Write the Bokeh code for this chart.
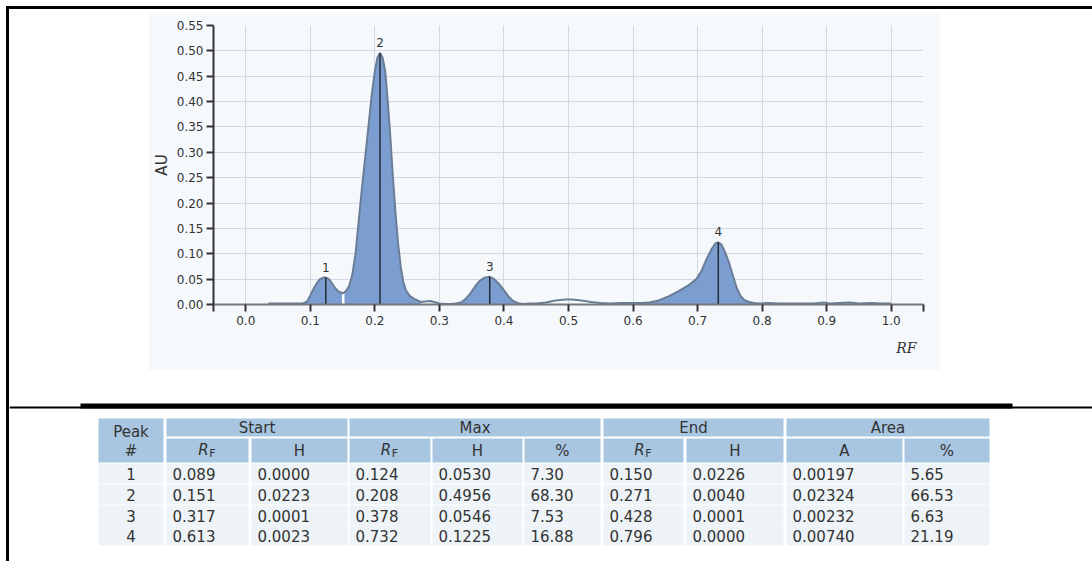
from bokeh.plotting import figure
from bokeh.models import Range1d, FixedTicker, PrintfTickFormatter, Title, Spacer
from bokeh.layouts import column, row
from bokeh.embed import file_html
from bokeh.resources import INLINE
from bokeh.core.properties import value

# ---------------- data ----------------
curve_rf = [0.035, 0.050, 0.070, 0.085, 0.089, 0.095, 0.100, 0.105, 0.110, 0.115, 0.120, 0.124,
            0.128, 0.133, 0.138, 0.144, 0.150, 0.151, 0.155, 0.160, 0.165, 0.170, 0.175, 0.180,
            0.185, 0.190, 0.195, 0.200, 0.204, 0.208, 0.212, 0.216, 0.220, 0.224, 0.228, 0.232,
            0.236, 0.240, 0.244, 0.248, 0.254, 0.261, 0.271, 0.278, 0.285, 0.292, 0.300, 0.310,
            0.317, 0.325, 0.333, 0.340, 0.348, 0.355, 0.362, 0.370, 0.378, 0.385, 0.392, 0.400,
            0.407, 0.414, 0.421, 0.428, 0.440, 0.450, 0.465, 0.480, 0.495, 0.505, 0.520, 0.535,
            0.550, 0.565, 0.580, 0.600, 0.613, 0.625, 0.640, 0.655, 0.670, 0.685, 0.698, 0.706,
            0.714, 0.722, 0.728, 0.732, 0.737, 0.742, 0.748, 0.754, 0.760, 0.766, 0.772, 0.780,
            0.788, 0.796, 0.810, 0.825, 0.840, 0.860, 0.880, 0.895, 0.905, 0.920, 0.935, 0.950,
            0.970, 0.985, 1.000]
curve_au = [0.002, 0.002, 0.002, 0.002, 0.002, 0.006, 0.018, 0.031, 0.042, 0.050, 0.053, 0.053,
            0.051, 0.043, 0.033, 0.025, 0.0226, 0.0223, 0.026, 0.036, 0.058, 0.100, 0.165, 0.230,
            0.290, 0.350, 0.412, 0.460, 0.487, 0.4956, 0.487, 0.460, 0.400, 0.330, 0.250, 0.180,
            0.120, 0.075, 0.045, 0.028, 0.017, 0.011, 0.005, 0.006, 0.007, 0.005, 0.002, 0.001,
            0.001, 0.002, 0.004, 0.010, 0.022, 0.035, 0.046, 0.053, 0.0546, 0.050, 0.041, 0.028,
            0.016, 0.007, 0.003, 0.001, 0.002, 0.002, 0.004, 0.008, 0.010, 0.010, 0.008, 0.005,
            0.003, 0.002, 0.003, 0.003, 0.003, 0.004, 0.008, 0.016, 0.026, 0.037, 0.050, 0.066,
            0.090, 0.110, 0.121, 0.1225, 0.118, 0.105, 0.085, 0.060, 0.035, 0.018, 0.009, 0.005,
            0.003, 0.002, 0.003, 0.002, 0.002, 0.002, 0.002, 0.004, 0.002, 0.003, 0.004, 0.002,
            0.003, 0.002, 0.002]

peak_no = [1, 2, 3, 4]
start_rf = [0.089, 0.151, 0.317, 0.613]
start_h = [0.0000, 0.0223, 0.0001, 0.0023]
max_rf = [0.124, 0.208, 0.378, 0.732]
max_h = [0.0530, 0.4956, 0.0546, 0.1225]
max_pct = [7.30, 68.30, 7.53, 16.88]
end_rf = [0.150, 0.271, 0.428, 0.796]
end_h = [0.0226, 0.0040, 0.0001, 0.0000]
area_a = [0.00197, 0.02324, 0.00232, 0.00740]
area_pct = [5.65, 66.53, 6.63, 21.19]

x_ticks = [0.0, 0.1, 0.2, 0.3, 0.4, 0.5, 0.6, 0.7, 0.8, 0.9, 1.0]
y_ticks = [0.00, 0.05, 0.10, 0.15, 0.20, 0.25, 0.30, 0.35, 0.40, 0.45, 0.50, 0.55]

group_labels = ["Start", "Max", "End", "Area"]
sub_labels = ["RF", "H", "RF", "H", "%", "RF", "H", "A", "%"]

# ---------------- styles ----------------
BG = "#f6f9fc"
FILL = "#7c9dd0"
LINE = "#6a7d96"
GRID = "#d4d7e6"
TXT = "#333333"
HEAD = "#a8c6e0"
ROW = "#edf3f6"
FONT = "DejaVu Sans"

# ---------------- chart ----------------
p = figure(width=792, height=358, x_range=Range1d(-0.05, 1.05), y_range=Range1d(0, 0.55),
           output_backend="svg", toolbar_location=None,
           min_border_left=65, min_border_right=17, min_border_top=13, min_border_bottom=66,
           background_fill_color=BG, border_fill_color=BG, outline_line_color=None)

p.xaxis.ticker = FixedTicker(ticks=[-0.05] + x_ticks + [1.05])
p.xaxis.formatter = PrintfTickFormatter(format="%.1f")
p.xaxis.major_label_overrides = {-0.05: "", 1.05: ""}
p.xaxis.axis_line_color = "#777777"
p.xaxis.axis_line_width = 2
p.xaxis.major_tick_line_color = "#333333"
p.xaxis.major_tick_line_width = 2
p.xaxis.major_tick_out = 7
p.xaxis.major_tick_in = 0
p.xaxis.minor_tick_out = 0
p.xaxis.major_label_standoff = 4

p.yaxis.ticker = FixedTicker(ticks=y_ticks)
p.yaxis.formatter = PrintfTickFormatter(format="%.2f")
p.yaxis.axis_line_color = "#333333"
p.yaxis.axis_line_width = 2
p.yaxis.major_tick_line_color = "#333333"
p.yaxis.major_tick_line_width = 2
p.yaxis.major_tick_out = 7
p.yaxis.major_tick_in = 0
p.yaxis.minor_tick_out = 0
p.yaxis.major_label_standoff = 3
p.yaxis.axis_label = "AU"
p.yaxis.axis_label_text_font = FONT
p.yaxis.axis_label_text_font_size = "15px"
p.yaxis.axis_label_text_font_style = "normal"
p.yaxis.axis_label_text_color = TXT
p.yaxis.axis_label_standoff = 3

for ax in (p.xaxis, p.yaxis):
    ax.major_label_text_font = FONT
    ax.major_label_text_font_size = "12px"
    ax.major_label_text_color = TXT

p.xgrid.ticker = FixedTicker(ticks=x_ticks)
p.ygrid.ticker = FixedTicker(ticks=y_ticks[1:])
p.grid.grid_line_color = GRID
p.grid.grid_line_width = 1

# filled peak areas
for s, e in zip(start_rf, end_rf):
    xs = [x for x in curve_rf if s <= x <= e]
    ys = [y for x, y in zip(curve_rf, curve_au) if s <= x <= e]
    p.varea(x=xs, y1=[0] * len(xs), y2=ys, fill_color=FILL, fill_alpha=1)

p.segment(x0=start_rf, y0=[0] * 4, x1=start_rf, y1=start_h, line_color="white", line_width=2.5)
p.line(curve_rf, curve_au, line_color=LINE, line_width=2)
p.segment(x0=max_rf, y0=[0] * 4, x1=max_rf, y1=max_h, line_color="#111111", line_width=1.2)
p.text(x=max_rf, y=max_h, text=[str(n) for n in peak_no], y_offset=-6,
       text_align="center", text_baseline="bottom", text_font=value(FONT),
       text_font_size="12px", text_color=TXT)

rf_title = Title(text="RF", align="right", text_font="DejaVu Serif", text_font_style="italic",
                 text_font_size="14px", text_color=TXT, offset=7, standoff=21)
p.add_layout(rf_title, "below")

# ---------------- separator + table (pixel coordinates) ----------------
BW, BH = 1083, 191
TX0, TY0 = 89, 48          # table origin inside the lower panel
col_left = [0, 68, 153, 251, 334, 426, 505, 588, 688, 806]
col_w = [65, 82, 96, 81, 90, 76, 80, 97, 116, 85]
col_right = [l + w for l, w in zip(col_left, col_w)]
groups = [(1, 2), (3, 5), (6, 7), (8, 9)]
row_top = [45, 66, 87, 107]
ROW_H = 20

t = figure(width=BW, height=BH, x_range=Range1d(0, BW), y_range=Range1d(BH, 0),
           output_backend="svg", toolbar_location=None, x_axis_type=None, y_axis_type=None,
           min_border=0, outline_line_color=None,
           background_fill_color="white", border_fill_color="white")

# separator rules
t.quad(left=[71, 0], right=[1003, BW], top=[33, 36], bottom=[38, 38],
       fill_color="black", line_color=None)

def X(v):
    return [TX0 + a for a in v] if isinstance(v, list) else TX0 + v

def Y(v):
    return [TY0 + a for a in v] if isinstance(v, list) else TY0 + v

# header cells
hl = [col_left[0]] + [col_left[a] for a, b in groups]
hr = [col_right[0]] + [col_right[b] for a, b in groups]
t.quad(left=X(hl), right=X(hr), top=Y([0] * 5), bottom=Y([44] + [18] * 4),
       fill_color=HEAD, line_color=None)
t.quad(left=X(col_left[1:]), right=X(col_right[1:]), top=Y([20] * 9), bottom=Y([44] * 9),
       fill_color=HEAD, line_color=None)

# data cells
dl, dr, dt, db = [], [], [], []
for rt in row_top:
    for l, r in zip(col_left, col_right):
        dl.append(l); dr.append(r); dt.append(rt); db.append(rt + ROW_H)
t.quad(left=X(dl), right=X(dr), top=Y(dt), bottom=Y(db), fill_color=ROW, line_color=None)

tstyle = dict(text_font=value(FONT), text_font_size="15px", text_color=TXT, text_baseline="middle")
c0 = (col_left[0] + col_right[0]) / 2
t.text(x=X([c0, c0]), y=Y([13, 32]), text=["Peak", "#"], text_align="center", **tstyle)
gx = [(col_left[a] + col_right[b]) / 2 for a, b in groups]
t.text(x=X(gx), y=Y([9] * 4), text=group_labels, text_align="center", **tstyle)

sub_c = [(l + r) / 2 for l, r in zip(col_left[1:], col_right[1:])]
plain_x = [c for c, s in zip(sub_c, sub_labels) if s != "RF"]
plain_t = [s for s in sub_labels if s != "RF"]
t.text(x=X(plain_x), y=Y([32] * len(plain_x)), text=plain_t, text_align="center", **tstyle)
rf_x = [c for c, s in zip(sub_c, sub_labels) if s == "RF"]
t.text(x=X(rf_x), y=Y([31] * 3), text=["R"] * 3, x_offset=-4, text_align="center",
       text_font_style="italic", **tstyle)
t.text(x=X(rf_x), y=Y([35] * 3), text=["F"] * 3, x_offset=5, text_align="center",
       text_font=value(FONT), text_font_size="11px", text_color=TXT, text_baseline="middle")

row_c = [rt + ROW_H / 2 for rt in row_top]
t.text(x=X([c0] * 4), y=Y(row_c), text=[str(n) for n in peak_no], text_align="center", **tstyle)
cols = [
    ["%.3f" % v for v in start_rf],
    ["%.4f" % v for v in start_h],
    ["%.3f" % v for v in max_rf],
    ["%.4f" % v for v in max_h],
    ["%.2f" % v for v in max_pct],
    ["%.3f" % v for v in end_rf],
    ["%.4f" % v for v in end_h],
    ["%.5f" % v for v in area_a],
    ["%.2f" % v for v in area_pct],
]
for k, vals in enumerate(cols):
    t.text(x=X([col_left[k + 1] + 6] * 4), y=Y(row_c), text=vals, text_align="left", **tstyle)

# ---------------- page layout ----------------
inner = column(Spacer(height=3), row(Spacer(width=139), p), t,
               styles={"border-top": "3px solid black", "border-left": "3px solid black"})
page = column(Spacer(height=6), row(Spacer(width=6), inner))

open("out.html", "w").write(file_html(page, INLINE))
